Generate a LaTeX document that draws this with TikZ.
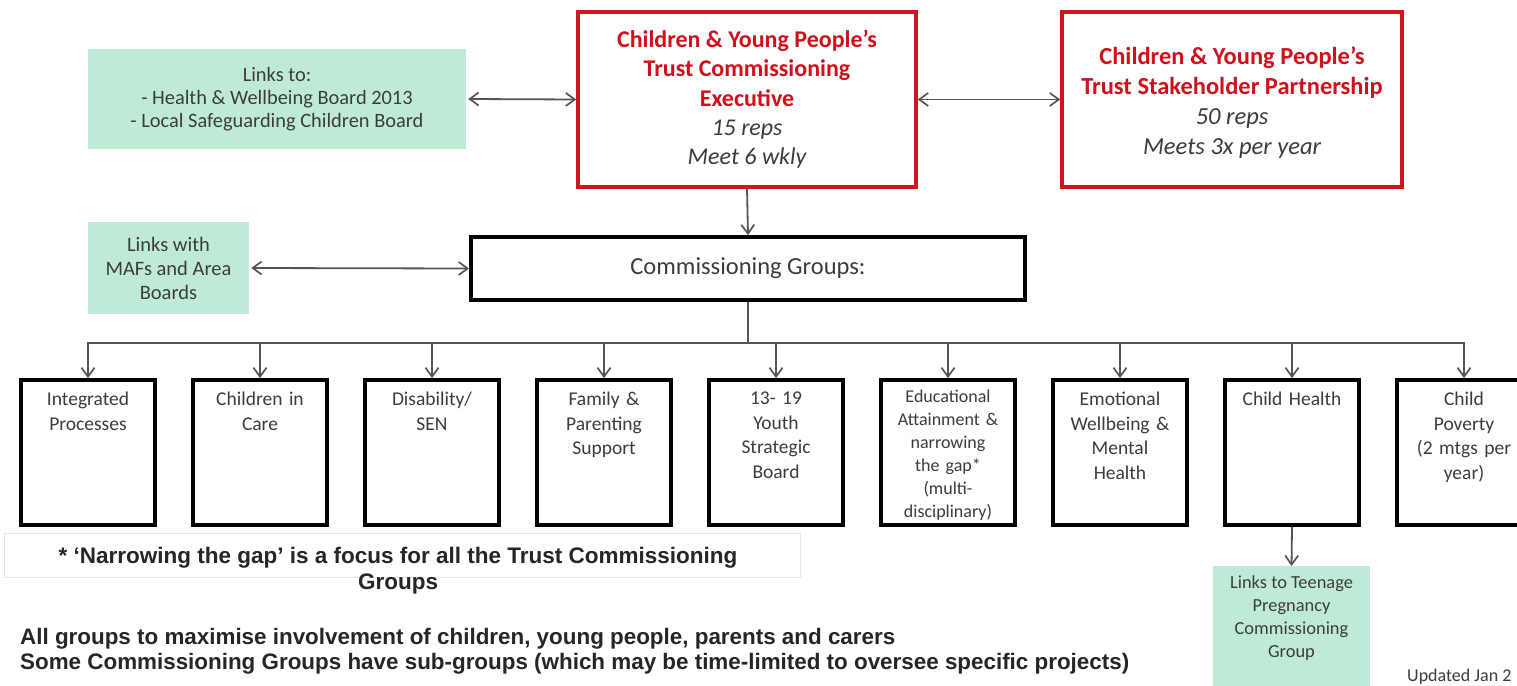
\documentclass[tikz,border=0pt]{standalone}
\usepackage{fontspec}
\setmainfont{Carlito}
\newfontfamily\arialf{Liberation Sans}
\usetikzlibrary{arrows.meta}
\definecolor{redb}{HTML}{D4151E}
\definecolor{redt}{HTML}{D0101A}
\definecolor{mint}{HTML}{BFEBD6}
\definecolor{txtg}{HTML}{3C3C3C}
\definecolor{arrg}{HTML}{555555}
\definecolor{faint}{HTML}{E6E6E6}
\begin{document}
\begin{tikzpicture}[x=1pt,y=-1pt,
  greenbox/.style={fill=mint, draw=none, inner sep=0pt, align=center, text=txtg},
  redbox/.style={draw=redb, line width=3.5pt, inner sep=0pt, fill=white, align=center},
  blackbox/.style={draw=black, line width=3.8pt, inner sep=0pt, fill=white},
  grptext/.style={inner sep=0pt, anchor=north, align=center, text=txtg, text width=132pt, font=\fontsize{19.5}{24.5}\selectfont},
  tipb/.tip={Straight Barb[length=9pt,width=13pt,line width=1.7pt]},
  link/.style={draw=arrg, line width=1.8pt, tipb-tipb},
  down/.style={draw=arrg, line width=1.8pt, -tipb},
  plain/.style={draw=arrg, line width=1.8pt},
  ]
\useasboundingbox (0,0) rectangle (1517,685);
\clip (0,0) rectangle (1517,685);
\fill[white] (0,0) rectangle (1517,685);

% top row
\node[greenbox, minimum width=378pt, minimum height=100pt,
      font=\fontsize{20.4}{23}\selectfont] (g1) at (277,99)
  {Links to:\\- Health \& Wellbeing Board 2013\\- Local Safeguarding Children Board};
\node[redbox, minimum width=338pt, minimum height=175pt,
      font=\fontsize{24}{29.3}\selectfont] (exec) at (747,99.5)
  {\textcolor{redt}{\bfseries Children \& Young People’s}\\
   \textcolor{redt}{\bfseries Trust Commissioning}\\
   \textcolor{redt}{\bfseries Executive}\\
   \textcolor{txtg}{\itshape 15 reps}\\
   \textcolor{txtg}{\itshape Meet 6 wkly}};
\node[redbox, minimum width=340pt, minimum height=175pt] (stake) at (1232,99.5) {};
\node[inner sep=0pt, align=center, font=\fontsize{24.5}{30}\selectfont] (staket) at (1232,102.5)
  {\textcolor{redt}{\bfseries Children \& Young People’s}\\
   \textcolor{redt}{\bfseries Trust Stakeholder Partnership}\\
   \textcolor{txtg}{\itshape 50 reps}\\
   \textcolor{txtg}{\itshape Meets 3x per year}};

% second row
\node[greenbox, minimum width=161pt, minimum height=92pt,
      font=\fontsize{20.5}{24}\selectfont] (g2) at (168.5,268)
  {Links with\\MAFs and Area\\Boards};
\node[blackbox, minimum width=554pt, minimum height=63pt, text=txtg,
      font=\fontsize{24.5}{24}\selectfont] (comm) at (748,268.5)
  {Commissioning Groups:};

% group boxes
\foreach \i/\x in {1/88,2/260,3/432,4/604,5/776,6/948,7/1120,8/1292,9/1464}{
  \node[blackbox, minimum width=134pt, minimum height=145pt] (b\i) at (\x,452.5) {};
}
\node[grptext] (t1) at (88,392) {Integrated\\Processes};
\node[grptext] (t2) at (260,392) {Children in\\Care};
\node[grptext] (t3) at (432,392) {Disability/\\SEN};
\node[grptext] (t4) at (604,392) {Family \&\\Parenting\\Support};
\node[grptext] (t5) at (776,392) {13- 19\\Youth\\Strategic\\Board};
\node[grptext, font=\fontsize{18}{23}\selectfont] (t6) at (948,390)
  {Educational\\Attainment \&\\narrowing\\the gap*\\(multi-\\disciplinary)};
\node[grptext] (t7) at (1120,392) {Emotional\\Wellbeing \&\\Mental\\Health};
\node[grptext] (t8) at (1292,392) {Child Health};
\node[grptext] (t9) at (1464,392) {Child\\Poverty\\(2 mtgs per\\year)};

% teenage pregnancy link
\node[greenbox, minimum width=157pt, minimum height=124pt, anchor=north] (g3) at (1291.5,566) {};
\node[inner sep=0pt, anchor=north, align=center, text=txtg,
      font=\fontsize{18.4}{23}\selectfont] (g3t) at (1291.5,576)
  {Links to Teenage\\Pregnancy\\Commissioning\\Group};

% notes
\node[draw=faint, line width=0.8pt, minimum width=796pt, minimum height=44pt,
      inner sep=0pt] (nbox) at (402,555) {};
\node[inner sep=0pt, align=center, text=black!85,
      font=\arialf\bfseries\fontsize{22.5}{26}\selectfont] (note) at (398,571)
  {* ‘Narrowing the gap’ is a focus for all the Trust Commissioning\\Groups};
\node[inner sep=0pt, anchor=base west, text=black!85,
      font=\arialf\bfseries\fontsize{22.4}{25}\selectfont] (all1) at (20,644)
  {All groups to maximise involvement of children, young people, parents and carers};
\node[inner sep=0pt, anchor=base west, text=black!85,
      font=\arialf\bfseries\fontsize{22.4}{25}\selectfont] (all2) at (20,669)
  {Some Commissioning Groups have sub-groups (which may be time-limited to oversee specific projects)};
\node[inner sep=0pt, anchor=base west, text=txtg,
      font=\fontsize{18}{20}\selectfont] (upd) at (1407,681) {Updated Jan 2};

% connectors
\draw[link] (g1.east) ++(2,0) -- (exec.west);
\draw[link] (exec.east) -- (stake.west);
\draw[down] (exec.south) -- (comm.north);
\draw[link] (g2.east) ++(2,0) -- (comm.west);
\coordinate (busM) at (748,343);
\coordinate (busL) at (88,343);
\coordinate (busR) at (1464,343);
\draw[plain] (comm.south) -- (busM);
\draw[plain, line cap=rect] (busL) -- (busR);
\foreach \i in {1,...,9}{
  \draw[down] (b\i.north |- busM) -- (b\i.north);
}
\draw[down] (b8.south) -- (g3.north);
\end{tikzpicture}
\end{document}
